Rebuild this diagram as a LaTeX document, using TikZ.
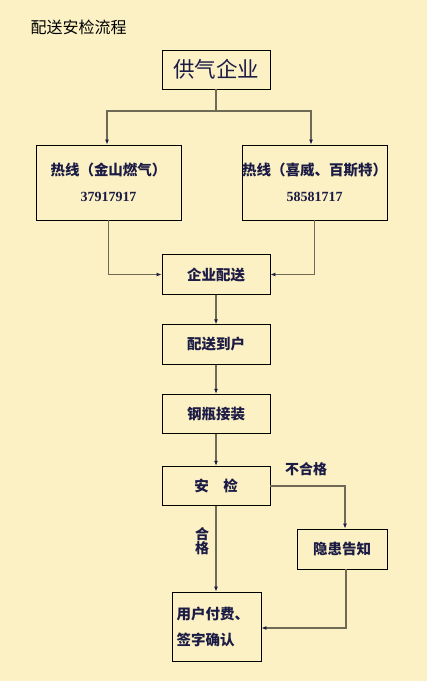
\documentclass[tikz,border=0pt]{standalone}
\usepackage{fontspec}
\usepackage{tikz}
\usetikzlibrary{arrows.meta}
\newfontfamily\cjk{Noto Sans CJK SC}
\newfontfamily\numfont{Liberation Serif}
\definecolor{paper}{HTML}{FBF1C4}
\definecolor{wire}{HTML}{6E6A55}
\definecolor{ink}{HTML}{1B1B45}

\begin{document}
\begin{tikzpicture}[x=1pt,y=-1pt,
  stepbox/.style={draw=black,line width=0.8pt,fill=paper,text=ink,inner sep=0pt,font=\cjk\bfseries\fontsize{14.5}{16}\selectfont},
  flow/.style={draw=wire,line width=1.1pt,-{Latex[length=5pt,width=4pt,color=ink]}},
  wirelabel/.style={text=ink,font=\cjk\bfseries\fontsize{14}{15}\selectfont}]
\fill[paper] (0,0) rectangle (427,681); \useasboundingbox (0,0) rectangle (427,681);
\node[anchor=west,font=\cjk\fontsize{16}{18}\selectfont] (title) at (27,27) {配送安检流程};
\node[stepbox,minimum width=108pt,minimum height=39pt,font=\cjk\fontsize{21.5}{24}\selectfont] (supplier) at (216,69.5) {供气企业};
\node[stepbox,minimum width=145pt,minimum height=75pt,align=center] (hotA) at (108.5,182.5) {热线（金山燃气）\\[10pt]{\numfont\bfseries\fontsize{14}{15}\selectfont 37917917}};
\node[stepbox,minimum width=145pt,minimum height=75pt,align=center] (hotB) at (314.5,182.5) {热线（喜威、百斯特）\\[10pt]{\numfont\bfseries\fontsize{14}{15}\selectfont 58581717}};
\foreach \name/\y/\txt in {dispatch/274.5/企业配送, home/344.5/配送到户, install/414/钢瓶接装, check/486/安　检} { \node[stepbox,minimum width=108pt,minimum height=39.5pt] (\name) at (216,\y) {\txt}; };
\node[stepbox,minimum width=90pt,minimum height=40pt] (notice) at (342,549) {隐患告知};
\node[stepbox,minimum width=89pt,minimum height=69pt,align=left,text width=80pt] (pay) at (216.5,626.5) {用户付费、\\[10pt]签字确认};
\coordinate (split) at (216,111);
\draw[wire,line width=1.1pt] (supplier.south) -- (split);
\draw[flow] (split) -| ([xshift=-1.5pt]hotA.north); \draw[flow] (split) -| ([xshift=-3.5pt]hotB.north);
\draw[flow] (hotA.south) |- (dispatch.west); \draw[flow] (hotB.south) |- (dispatch.east);
\draw[flow] (dispatch) -- (home); \draw[flow] (home) -- (install); \draw[flow] (install) -- (check);
\draw[flow] (check.east) -| ([xshift=3pt]notice.north);
\draw[flow] (check.south) -- (check.south |- pay.north);
\draw[flow] ([xshift=4pt]notice.south) |- ([yshift=-1.5pt]pay.east);
\node[wirelabel] (fail) at (306,469) {不合格};
\node[wirelabel,align=center,inner sep=0pt] (pass) at (202,541) {合\\[-1pt]格};
\end{tikzpicture}
\end{document}
